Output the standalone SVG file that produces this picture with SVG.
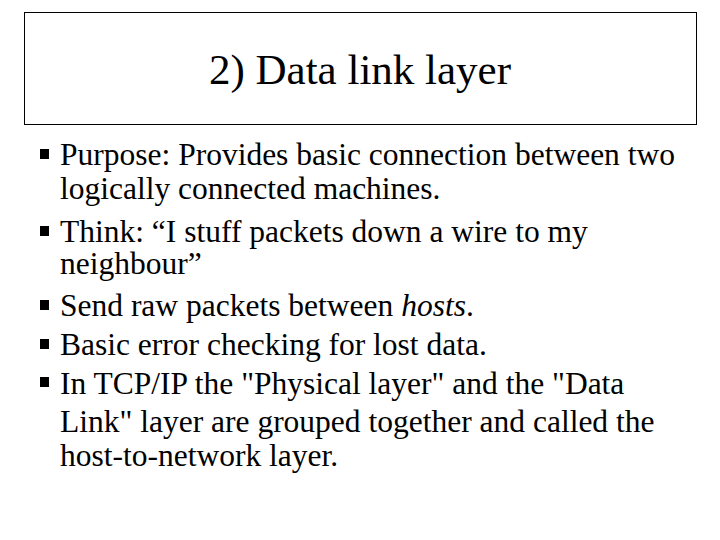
<svg xmlns="http://www.w3.org/2000/svg" width="720" height="540" viewBox="0 0 720 540">
<style>
.t{font-family:"Liberation Serif","Times New Roman",serif;font-size:31.5px;fill:#000}
.b{fill:#000}
</style>
<rect width="720" height="540" fill="#fff"/>
<g id="title">
<rect x="24.5" y="12.5" width="672" height="112" fill="#fff" stroke="#000" stroke-width="1"/>
<text x="360" y="84" text-anchor="middle" style="font-family:'Liberation Serif','Times New Roman',serif;font-size:43px">2) Data link layer</text>
</g>
<g id="bullets">
<rect class="b" x="40" y="149" width="9" height="10"/>
<rect class="b" x="40" y="226" width="9" height="10"/>
<rect class="b" x="40" y="300" width="9" height="10"/>
<rect class="b" x="40" y="339" width="9" height="10"/>
<rect class="b" x="40" y="377" width="9" height="10"/>
<text class="t" x="60" y="165">Purpose: Provides basic connection between two</text>
<text class="t" x="60" y="199">logically connected machines.</text>
<text class="t" x="60" y="242">Think: “I stuff packets down a wire to my</text>
<text class="t" x="60" y="274">neighbour”</text>
<text class="t" x="60" y="316">Send raw packets between <tspan font-style="italic">hosts</tspan>.</text>
<text class="t" x="60" y="355">Basic error checking for lost data.</text>
<text class="t" x="60" y="394">In TCP/IP the "Physical layer" and the "Data</text>
<text class="t" x="60" y="432">Link" layer are grouped together and called the</text>
<text class="t" x="60" y="466">host-to-network layer.</text>
</g>
</svg>
